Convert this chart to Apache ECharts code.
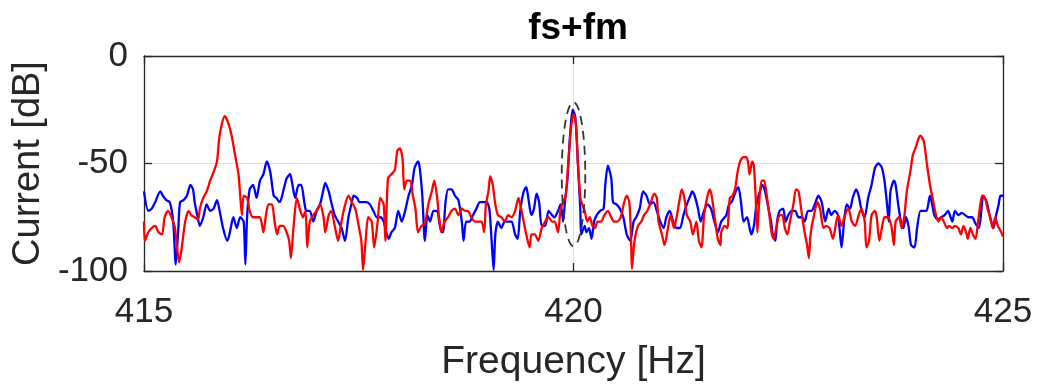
<!DOCTYPE html>
<html>
<head>
<meta charset="utf-8">
<title>fs+fm</title>
<script src="https://cdn.jsdelivr.net/npm/echarts@6/dist/echarts.min.js"></script>
<style>
  html, body { margin: 0; padding: 0; background: #ffffff; }
  #chart { width: 1037px; height: 392px; }
</style>
</head>
<body>
<div id="chart"></div>
<script>
// Spectrum around fs+fm: [frequency in Hz, current in dB]
const blueTrace = [
  [415.00,-63],[415.05,-72],[415.09,-71],[415.13,-68],[415.19,-63],[415.22,-65],[415.26,-67],[415.30,-68],[415.34,-77],[415.37,-97],
  [415.40,-80],[415.42,-68],[415.46,-67],[415.50,-65],[415.54,-60],[415.57,-62],[415.59,-68],[415.62,-74],[415.65,-79],[415.69,-75],
  [415.73,-69],[415.77,-72],[415.81,-71],[415.85,-67],[415.88,-72],[415.92,-80],[415.97,-86],[416.00,-82],[416.04,-75],[416.08,-80],
  [416.12,-75],[416.16,-77],[416.18,-97],[416.20,-75],[416.23,-62],[416.27,-60],[416.31,-66],[416.35,-58],[416.39,-55],[416.43,-49],
  [416.47,-54],[416.51,-65],[416.54,-66],[416.58,-68],[416.62,-63],[416.66,-57],[416.70,-55],
  [416.72,-58],[416.76,-66],[416.80,-60],[416.83,-60],[416.87,-69],[416.89,-72],[416.93,-72],[416.97,-77],[417.01,-72],[417.05,-69],
  [417.09,-62],[417.11,-59],[417.15,-63],[417.18,-68],[417.22,-74],[417.26,-77],[417.30,-80],[417.34,-86],[417.38,-75],[417.42,-68],
  [417.44,-65],[417.48,-66],[417.51,-68],[417.55,-68],[417.59,-68],[417.63,-69],[417.67,-72],[417.71,-75],[417.75,-75],[417.79,-77],
  [417.82,-82],[417.85,-85],[417.88,-82],[417.92,-80],[417.96,-72],[418.00,-77],[418.04,-72],[418.08,-65],[418.12,-60],[418.15,-52],
  [418.19,-49],[418.21,-52],[418.24,-65],[418.27,-86],[418.30,-74],[418.33,-77],[418.37,-72],
  [418.41,-72],[418.45,-80],[418.48,-82],[418.51,-68],[418.54,-62],[418.58,-62],[418.62,-65],[418.66,-67],[418.70,-77],[418.72,-86],
  [418.75,-77],[418.79,-77],[418.83,-74],[418.87,-71],[418.91,-68],[418.95,-68],[418.99,-68],[419.02,-71],[419.05,-88],[419.07,-99.5],
  [419.09,-83],[419.12,-77],[419.16,-80],[419.20,-77],[419.24,-77],[419.28,-77],[419.32,-83],[419.35,-85],[419.38,-72],[419.42,-63],
  [419.45,-61],[419.47,-65],[419.51,-74],[419.54,-71],[419.57,-64],[419.60,-68],[419.63,-79],[419.67,-79],[419.71,-72],[419.75,-74],
  [419.78,-75],[419.82,-72],[419.85,-69],[419.88,-77],[419.90,-68],[419.93,-57],[419.96,-37],[419.99,-25],
  [420.02,-28],[420.05,-49],[420.08,-72],[420.09,-83],[420.13,-79],[420.15,-82],[420.18,-80],[420.21,-85],[420.24,-77],[420.27,-74],
  [420.31,-72],[420.35,-71],[420.37,-60],[420.40,-51],[420.44,-57],[420.46,-68],[420.50,-69],[420.54,-71],[420.58,-75],[420.62,-83],
  [420.66,-86],[420.70,-77],[420.73,-75],[420.77,-71],[420.81,-63],[420.85,-65],[420.89,-69],[420.93,-68],[420.97,-72],[421.01,-77],
  [421.05,-80],[421.08,-75],[421.12,-72],[421.16,-77],[421.20,-80],[421.24,-80],[421.28,-74],[421.32,-69],[421.36,-65],[421.38,-63],
  [421.41,-65],[421.45,-71],[421.48,-77],[421.52,-72],[421.56,-69],[421.60,-71],[421.64,-77],[421.68,-82],[421.72,-77],[421.76,-75],
  [421.78,-74],[421.81,-69],[421.84,-68],[421.87,-65],[421.90,-62],[421.92,-61],[421.95,-68],[421.98,-77],[422.02,-75],[422.05,-80],
  [422.07,-83],[422.10,-79],[422.13,-69],[422.17,-63],[422.20,-60],[422.23,-63],[422.27,-71],[422.30,-77],[422.32,-83],[422.35,-86],
  [422.37,-77],[422.40,-72],[422.44,-71],[422.47,-77],[422.50,-74],[422.54,-72],[422.58,-72],[422.62,-75],[422.66,-75],[422.69,-77],
  [422.73,-72],[422.77,-72],[422.81,-69],[422.85,-65],[422.89,-68],[422.93,-77],[422.97,-71],[423.00,-74],[423.04,-72],[423.08,-74],
  [423.12,-89],[423.15,-77],[423.18,-69],[423.22,-71],[423.25,-66],[423.29,-62],[423.32,-65],[423.35,-71],[423.39,-75],[423.43,-66],
  [423.47,-60],[423.51,-52],[423.55,-50],[423.59,-52],[423.62,-58],[423.65,-69],[423.67,-77],[423.69,-63],[423.73,-58],[423.75,-60],
  [423.78,-69],[423.82,-79],[423.84,-80],[423.87,-75],[423.90,-79],[423.93,-88],[423.97,-89],[424.00,-80],[424.04,-72],[424.08,-72],
  [424.11,-72],[424.15,-65],[424.17,-68],[424.20,-74],[424.24,-76],[424.28,-75],[424.32,-74],[424.36,-72],[424.39,-75],[424.41,-77],
  [424.44,-72],[424.48,-74],[424.52,-73],[424.56,-74],[424.60,-75],[424.64,-75],[424.68,-78],[424.72,-80],[424.75,-71],[424.77,-65],
  [424.81,-68],[424.85,-75],[424.89,-80],[424.92,-74],[424.95,-69],[424.97,-65],[425.00,-65]
];

const redTrace = [
  [415.00,-77],[415.01,-86],[415.05,-82],[415.09,-80],[415.13,-79],[415.17,-82],[415.21,-83],[415.24,-75],[415.28,-72],[415.32,-75],
  [415.36,-80],[415.39,-91],[415.41,-96],[415.44,-89],[415.48,-77],[415.52,-72],[415.55,-74],[415.59,-75],[415.63,-76],[415.65,-71],
  [415.69,-66],[415.73,-63],[415.77,-58],[415.81,-54],[415.85,-49],[415.88,-37],[415.94,-28],[415.98,-31],[416.02,-37],[416.06,-46],
  [416.10,-55],[416.12,-65],[416.14,-74],[416.16,-65],[416.20,-66],[416.23,-72],[416.27,-75],[416.31,-75],[416.35,-75],[416.39,-82],
  [416.42,-74],[416.45,-69],[416.49,-69],[416.52,-77],[416.55,-83],[416.58,-79],[416.62,-79],[416.66,-82],[416.69,-86],
  [416.71,-94],[416.74,-80],[416.78,-66],[416.82,-72],[416.85,-75],[416.88,-72],[416.90,-89],[416.93,-77],[416.97,-74],[417.01,-72],
  [417.05,-69],[417.09,-75],[417.11,-82],[417.15,-74],[417.18,-72],[417.22,-79],[417.26,-86],[417.29,-79],[417.33,-71],[417.38,-65],
  [417.42,-68],[417.46,-71],[417.49,-77],[417.53,-86],[417.55,-99.5],[417.58,-86],[417.61,-75],[417.65,-77],[417.68,-89],[417.72,-77],
  [417.75,-66],[417.79,-69],[417.81,-86],[417.84,-57],[417.88,-55],[417.92,-53],[417.95,-44],[417.98,-43],[418.01,-48],[418.03,-62],
  [418.06,-58],[418.10,-58],[418.13,-65],[418.16,-71],[418.19,-82],[418.23,-79],[418.27,-78],[418.31,-69],[418.35,-63],[418.38,-58],
  [418.41,-65],[418.44,-77],[418.46,-82],[418.50,-77],[418.54,-75],[418.58,-72],[418.62,-71],[418.66,-74],[418.70,-71],[418.74,-72],
  [418.77,-72],[418.81,-75],[418.85,-77],[418.89,-77],[418.93,-77],[418.96,-82],[418.98,-69],[419.01,-63],[419.03,-56],[419.06,-60],
  [419.09,-69],[419.12,-74],[419.16,-75],[419.20,-77],[419.24,-74],[419.28,-75],[419.32,-72],[419.36,-66],[419.38,-69],[419.42,-77],
  [419.45,-83],[419.49,-89],[419.51,-83],[419.55,-83],[419.59,-86],[419.63,-80],[419.67,-77],[419.71,-75],[419.75,-77],[419.78,-77],
  [419.82,-82],[419.85,-71],[419.88,-68],[419.91,-65],[419.94,-49],[419.97,-34],[420.00,-27],[420.03,-32],
  [420.05,-49],[420.08,-66],[420.10,-69],[420.13,-72],[420.16,-77],[420.19,-75],[420.22,-79],[420.25,-80],[420.28,-77],[420.32,-77],
  [420.36,-74],[420.40,-72],[420.44,-75],[420.47,-77],[420.51,-77],[420.55,-75],[420.59,-68],[420.62,-65],[420.65,-68],[420.67,-85],
  [420.68,-99],[420.71,-86],[420.75,-79],[420.79,-77],[420.82,-74],[420.86,-72],[420.90,-68],[420.94,-64],[420.97,-66],[420.99,-77],
  [421.03,-83],[421.06,-88],[421.10,-80],[421.13,-74],[421.17,-80],[421.20,-75],[421.23,-68],[421.26,-62],[421.29,-66],[421.32,-74],
  [421.36,-77],[421.39,-83],[421.43,-77],[421.46,-86],[421.49,-89],[421.52,-74],[421.56,-65],[421.59,-62],[421.62,-68],[421.65,-77],
  [421.68,-85],[421.71,-88],[421.72,-82],[421.76,-79],
  [421.79,-80],[421.82,-66],[421.85,-65],[421.88,-62],[421.91,-54],[421.94,-49],[421.98,-47],[422.01,-47],[422.03,-49],[422.05,-55],
  [422.08,-49],[422.10,-51],[422.12,-65],[422.14,-82],[422.16,-69],[422.19,-58],[422.22,-58],[422.25,-65],[422.28,-74],[422.31,-83],
  [422.33,-85],[422.36,-80],[422.40,-74],[422.43,-74],[422.46,-80],[422.49,-83],[422.52,-77],[422.56,-69],[422.59,-62],[422.62,-63],
  [422.66,-74],[422.69,-82],[422.72,-88],[422.74,-94],[422.76,-83],[422.80,-74],[422.84,-68],[422.87,-71],[422.91,-80],[422.94,-79],
  [422.98,-80],[423.02,-85],[423.06,-77],[423.08,-74],[423.12,-79],[423.16,-74],[423.20,-71],[423.24,-77],[423.28,-79],[423.32,-74],
  [423.35,-71],[423.39,-77],[423.41,-89],[423.44,-86],
  [423.47,-74],[423.51,-72],[423.53,-75],[423.56,-86],[423.59,-80],[423.62,-75],[423.66,-75],[423.70,-79],[423.73,-88],[423.75,-77],
  [423.79,-75],[423.82,-80],[423.85,-75],[423.88,-63],[423.92,-54],[423.95,-46],[423.98,-43],[424.02,-38],[424.04,-37],[424.08,-40],
  [424.11,-49],[424.15,-60],[424.19,-68],[424.22,-74],[424.25,-77],[424.28,-75],[424.31,-77],[424.35,-80],[424.37,-79],[424.41,-80],
  [424.44,-79],[424.48,-80],[424.51,-83],[424.54,-79],[424.57,-82],[424.59,-85],[424.62,-80],[424.65,-83],[424.68,-85],[424.71,-77],
  [424.74,-68],[424.76,-65],[424.79,-66],[424.82,-71],[424.85,-75],[424.88,-80],[424.91,-75],[424.94,-79],[424.98,-82],[425.00,-84]
];

// Axis ranges and ticks
const freqRange = [415, 425];
const freqTickStep = 5;
const dbRange = [-100, 0];
const dbTickStep = 50;

// Dashed ellipse marking the component at 420 Hz: centre [Hz, dB] and half-axes [Hz, dB]
const markCentre = [420, -55];
const markRadii = [0.137, 33.5];

const FONT = '"Liberation Sans", Arial, Helvetica, sans-serif';
const INK = '#262626';

const chart = echarts.init(document.getElementById('chart'), null, { renderer: 'canvas' });

function boxAxis(extra) {
  return Object.assign({
    type: 'value',
    axisLine: { show: true, onZero: false, lineStyle: { color: INK, width: 1.3 } },
    axisTick: { show: true, inside: true, length: 8, lineStyle: { color: INK, width: 1.3 } },
    minorTick: { show: false },
    splitLine: { show: false }
  }, extra);
}

chart.setOption({
  animation: false,
  backgroundColor: '#ffffff',
  title: {
    text: 'fs+fm',
    left: 573,
    textAlign: 'center',
    top: 5,
    textStyle: { fontFamily: FONT, fontSize: 37, fontWeight: 'bold', color: '#000000' }
  },
  grid: { left: 144, right: 34, top: 56, bottom: 121, containLabel: false },
  xAxis: [
    boxAxis({
      min: freqRange[0], max: freqRange[1], interval: freqTickStep,
      position: 'bottom',
      name: 'Frequency [Hz]',
      nameLocation: 'middle',
      nameGap: 72,
      nameTextStyle: { fontFamily: FONT, fontSize: 39, color: INK },
      axisLabel: { show: true, fontFamily: FONT, fontSize: 35, color: INK, margin: 24 },
      splitLine: { show: true, lineStyle: { color: '#dedede', width: 1 } }
    }),
    boxAxis({
      min: freqRange[0], max: freqRange[1], interval: freqTickStep,
      position: 'top',
      axisLabel: { show: false }
    })
  ],
  yAxis: [
    boxAxis({
      min: dbRange[0], max: dbRange[1], interval: dbTickStep,
      position: 'left',
      name: 'Current [dB]',
      nameLocation: 'middle',
      nameGap: 96,
      nameTextStyle: { fontFamily: FONT, fontSize: 38, color: INK },
      axisLabel: { show: true, fontFamily: FONT, fontSize: 35, color: INK, margin: 16, padding: [6, 0, 0, 0] },
      splitLine: { show: true, lineStyle: { color: '#dedede', width: 1 } }
    }),
    boxAxis({
      min: dbRange[0], max: dbRange[1], interval: dbTickStep,
      position: 'right',
      axisLabel: { show: false }
    })
  ],
  series: [
    {
      type: 'line',
      xAxisIndex: 0, yAxisIndex: 0,
      data: blueTrace,
      showSymbol: false,
      smooth: 0.25,
      lineStyle: { color: '#0000ff', width: 2.3 },
      z: 3
    },
    {
      type: 'line',
      xAxisIndex: 0, yAxisIndex: 0,
      data: redTrace,
      showSymbol: false,
      smooth: 0.25,
      lineStyle: { color: '#ff0000', width: 2.3 },
      z: 4
    },
    {
      type: 'custom',
      xAxisIndex: 0, yAxisIndex: 0,
      data: [markCentre],
      z: 5,
      silent: true,
      renderItem: function (params, api) {
        const c = api.coord([api.value(0), api.value(1)]);
        const rx = api.size([markRadii[0], 0])[0];
        const ry = api.size([0, markRadii[1]])[1];
        const pts = [];
        const n = 96;
        for (let i = 0; i < n; i++) {
          const a = (i / n) * Math.PI * 2;
          pts.push([c[0] + rx * Math.cos(a), c[1] + ry * Math.sin(a)]);
        }
        return {
          type: 'polygon',
          shape: { points: pts },
          style: { fill: 'none', stroke: '#333333', lineWidth: 1.8, lineDash: [9, 6] }
        };
      }
    }
  ]
});
</script>
</body>
</html>
